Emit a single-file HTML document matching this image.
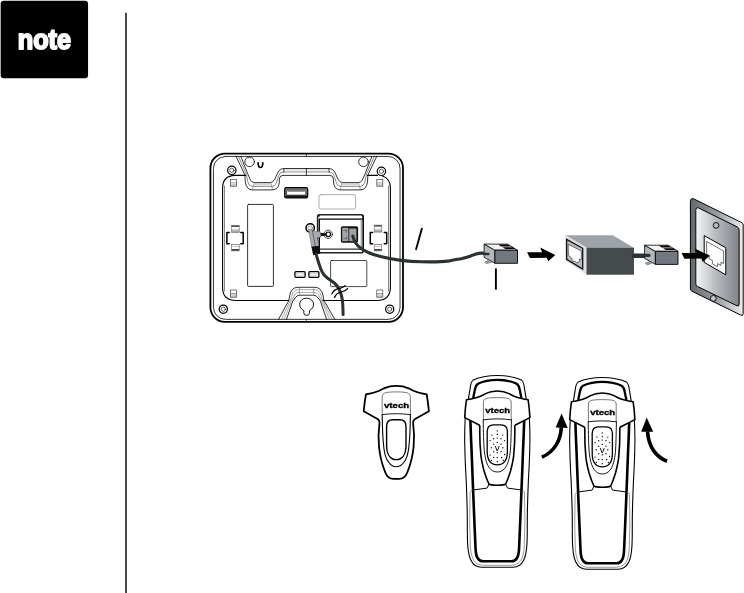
<!DOCTYPE html>
<html lang="en">
<head>
<meta charset="utf-8">
<title>note</title>
<style>
html,body{margin:0;padding:0;background:#fff;}
body{width:744px;height:593px;overflow:hidden;position:relative;font-family:"Liberation Sans",sans-serif;}
svg{position:absolute;left:0;top:0;display:block;will-change:transform;}
text{font-family:"Liberation Sans",sans-serif;font-weight:bold;}
.k{stroke:#000;stroke-linecap:round;stroke-linejoin:round;}
.g{stroke:#555;stroke-linecap:round;stroke-linejoin:round;}
.l{stroke:#999;stroke-linecap:round;stroke-linejoin:round;}
</style>
</head>
<body>
<svg width="744" height="593" viewBox="0 0 744 593" fill="none">
<defs>
<linearGradient id="tab" x1="0" y1="0" x2="0" y2="1"><stop offset="0" stop-color="#fff"/><stop offset="0.42" stop-color="#fff"/><stop offset="0.5" stop-color="#888"/><stop offset="0.58" stop-color="#d8d8d8"/><stop offset="1" stop-color="#c4c4c4"/></linearGradient>
<linearGradient id="plate" x1="0" y1="0" x2="1" y2="0"><stop offset="0" stop-color="#f6f6f7"/><stop offset="0.45" stop-color="#b9bcc0"/><stop offset="1" stop-color="#80848a"/></linearGradient>
<linearGradient id="plateo" x1="0" y1="0" x2="1" y2="0"><stop offset="0" stop-color="#63686d"/><stop offset="0.5" stop-color="#9a9ea3"/><stop offset="1" stop-color="#ededee"/></linearGradient>
<linearGradient id="tabT" x1="0" y1="0" x2="0" y2="1"><stop offset="0" stop-color="#444"/><stop offset="0.18" stop-color="#555"/><stop offset="0.24" stop-color="#fff"/><stop offset="0.5" stop-color="#f4f4f4"/><stop offset="0.7" stop-color="#bbb"/><stop offset="1" stop-color="#999"/></linearGradient>
<linearGradient id="tabB" x1="0" y1="0" x2="0" y2="1"><stop offset="0" stop-color="#999"/><stop offset="0.1" stop-color="#fff"/><stop offset="0.3" stop-color="#fff"/><stop offset="0.36" stop-color="#999"/><stop offset="0.44" stop-color="#fff"/><stop offset="0.72" stop-color="#fff"/><stop offset="0.78" stop-color="#444"/><stop offset="1" stop-color="#555"/></linearGradient>
</defs>
<rect x="0.65" y="0.65" width="87.4" height="77.6" rx="3.2" ry="3.2" fill="#000"/>
<text x="17.7" y="49" font-size="27" fill="#fff" stroke="#fff" stroke-width="1.9" stroke-linejoin="round" textLength="53.4" lengthAdjust="spacingAndGlyphs">note</text>
<line x1="126" y1="12.8" x2="126" y2="593" stroke="#48484a" stroke-width="2"/>
<g id="base">
<!-- outer shell -->
<rect x="210.4" y="153.6" width="192.6" height="168.2" rx="14.5" ry="14.5" class="k" stroke-width="1.8" fill="#fff"/>
<rect x="213.45" y="156.45" width="186.6" height="162.9" rx="12" ry="12" class="k" stroke-width="0.8"/>
<line x1="306.4" y1="154" x2="306.4" y2="156.2" class="k" stroke-width="0.7"/>
<line x1="306.3" y1="319.5" x2="306.3" y2="322" class="k" stroke-width="0.7"/>
<!-- inner recessed panel -->
<path class="k" stroke-width="1.1" d="M245.6,175.4 H235 Q222.6,175.8 222.6,188 V288.5 Q223.2,300.5 236,300.5 H288.6"/>
<path class="g" stroke-width="0.7" d="M224.5,186 V291"/>
<path class="k" stroke-width="1.1" d="M367.4,175.4 H377.5 M382.4,176 Q390.2,178.5 390.4,188 V288 Q389.8,300.5 377,300.5 H322.8"/>
<path class="g" stroke-width="0.7" d="M388.5,186 V291"/>
<!-- top cradle notch -->
<g>
<path class="k" stroke-width="0.8" d="M236,156.2 L244.9,175 L245.3,181.8 Q246.4,189.9 252.4,189.9 H272 Q277.6,189.9 279,184.3 L279.6,178 Q280,175.4 283,175.4 H306.4"/>
<path class="k" stroke-width="0.8" d="M240.9,156.4 L247.7,173.8 L250.5,180.2 Q251.8,182.6 254.6,182.6 H270.3 Q273,182.4 274.7,179.4 L278,172.2 Q279.8,168.5 283.6,168.5 H306.4"/>
<path class="k" stroke-width="0.45" d="M238.5,156.4 L246.4,174.4 L247.6,181 Q248.8,186.4 253.4,186.4 H271.2 Q275.2,186.4 276.6,182.2 L278.6,176 Q279.6,172 283.3,172 H306.4"/>
<rect x="254.8" y="183" width="15.6" height="2.3" fill="#d0d0d0"/>
<rect x="284" y="169" width="22.4" height="1.8" fill="#e4e4e4"/>
<path class="g" stroke-width="0.5" d="M254.4,182.8 L252.4,189.6 M270.8,182.8 L272.6,189.6"/>
<path class="k" stroke-width="0.7" d="M283.8,168.6 V172"/>
</g>
<g transform="translate(612.8,0) scale(-1,1)">
<path class="k" stroke-width="0.8" d="M236,156.2 L244.9,175 L245.3,181.8 Q246.4,189.9 252.4,189.9 H272 Q277.6,189.9 279,184.3 L279.6,178 Q280,175.4 283,175.4 H306.4"/>
<path class="k" stroke-width="0.8" d="M240.9,156.4 L247.7,173.8 L250.5,180.2 Q251.8,182.6 254.6,182.6 H270.3 Q273,182.4 274.7,179.4 L278,172.2 Q279.8,168.5 283.6,168.5 H306.4"/>
<path class="k" stroke-width="0.45" d="M238.5,156.4 L246.4,174.4 L247.6,181 Q248.8,186.4 253.4,186.4 H271.2 Q275.2,186.4 276.6,182.2 L278.6,176 Q279.6,172 283.3,172 H306.4"/>
<rect x="254.8" y="183" width="15.6" height="2.3" fill="#d0d0d0"/>
<rect x="284" y="169" width="22.4" height="1.8" fill="#e4e4e4"/>
<path class="g" stroke-width="0.5" d="M254.4,182.8 L252.4,189.6 M270.8,182.8 L272.6,189.6"/>
<path class="k" stroke-width="0.7" d="M283.8,168.6 V172"/>
</g>
<line x1="306.4" y1="168.5" x2="306.4" y2="175.4" class="k" stroke-width="0.7"/>
<!-- top holes -->
<circle cx="249.6" cy="161.8" r="4.8" class="k" stroke-width="0.8" fill="#fff"/>
<circle cx="363.5" cy="161.8" r="4.8" class="k" stroke-width="0.8" fill="#fff"/>
<path class="k" stroke-width="1.7" d="M258.1,162.9 Q258.2,167.5 260.4,167.5 Q262.7,167.5 262.8,162.9"/>
<!-- screws -->
<g class="k" fill="#fff">
<circle cx="231.8" cy="170.3" r="4.2" stroke-width="1.2"/><circle cx="231.8" cy="170.3" r="2.1" stroke-width="0.6"/>
<circle cx="381.4" cy="171.3" r="4.2" stroke-width="1.2"/><circle cx="381.4" cy="171.3" r="2.1" stroke-width="0.6"/>
<circle cx="223.3" cy="309.2" r="4.1" stroke-width="1.25"/><circle cx="223.3" cy="309.2" r="2.1" stroke-width="0.6"/>
<circle cx="389.7" cy="309.2" r="4.1" stroke-width="1.25"/><circle cx="389.7" cy="309.2" r="2.1" stroke-width="0.6"/>
</g>
<!-- small corner tabs -->
<g stroke="#444" stroke-width="0.7" fill="url(#tab)">
<rect x="230.6" y="179.4" width="6" height="6.8"/>
<rect x="376.8" y="179.4" width="6" height="6.8"/>
<rect x="230.6" y="290" width="6" height="7.2"/>
<rect x="376.8" y="290" width="6" height="7.2"/>
</g>
<!-- side clips -->
<g stroke="#666" stroke-width="0.6">
<rect x="231.6" y="225.3" width="7.6" height="7" fill="url(#tabT)"/>
<rect x="231.6" y="244.3" width="7.6" height="6.6" fill="url(#tabB)"/>
<rect x="374.2" y="225.1" width="7.6" height="7" fill="url(#tabT)"/>
<rect x="374.2" y="244.3" width="7.6" height="6.6" fill="url(#tabB)"/>
</g>
<path class="k" stroke-width="1.5" stroke-linecap="butt" d="M229.2,232.5 H226.9 V243.7 H229.2 M240.8,232.5 H243.2 V243.7 H240.8"/>
<path class="k" stroke-width="1.5" stroke-linecap="butt" d="M372.6,232.5 H370.3 V243.7 H372.6 M384.2,232.5 H386.7 V243.7 H384.2"/>
<!-- tall rectangle -->
<rect x="247.6" y="204.4" width="25.8" height="82" rx="1" class="k" stroke-width="0.8"/>
<!-- slot -->
<rect x="284.7" y="187.6" width="23" height="10.3" rx="1.6" fill="#777" stroke="#000" stroke-width="1.2"/>
<rect x="285.4" y="195.6" width="21.6" height="2" fill="#111"/>
<rect x="286.6" y="190.3" width="19.2" height="4.8" rx="0.8" fill="#fff" stroke="#222" stroke-width="0.7"/>
<line x1="287.6" y1="191.5" x2="304.8" y2="191.5" stroke="#555" stroke-width="0.6"/>
<!-- label rects -->
<rect x="319" y="194.6" width="36.6" height="14.4" rx="1.8" class="l" stroke-width="0.8"/>
<rect x="330.6" y="260.5" width="36.2" height="26.1" rx="0.8" class="k" stroke-width="0.7"/>
<!-- small rects -->
<rect x="294.9" y="271.7" width="10.2" height="5.6" rx="1" class="k" stroke-width="1.3" fill="#fff"/>
<rect x="296.7" y="273.3" width="6.6" height="2.4" fill="#fff" stroke="#999" stroke-width="0.35"/>
<rect x="308.9" y="271.7" width="10" height="5.6" rx="1" class="k" stroke-width="1.3" fill="#fff"/>
<rect x="310.7" y="273.3" width="6.4" height="2.4" fill="#fff" stroke="#999" stroke-width="0.35"/>
<!-- bottom notch -->
<path class="k" stroke-width="0.8" d="M278.5,319.4 L288.8,300.6 L289.6,296 Q291,287.3 298,287.3 H314.6 Q321.8,287.3 323.2,296 L323.8,300.4 L334.9,319.4"/>
<path class="g" stroke-width="0.5" d="M281.4,319.4 L290.3,300.6 L291.6,296.6 Q293,289.6 298.4,289.6 H314.4 Q320,289.6 321.4,296.8 L322.5,300.4 L332.2,319.4"/>
<path class="g" stroke-width="0.5" d="M284,319.4 L291.6,300.6 L293.4,297.4 Q295,292.4 298.8,292.4 H314.2 Q318.2,292.4 319.8,297.4 L321.4,300.4 L329.6,319.4"/>
<path class="k" stroke-width="0.8" d="M286.5,319.4 L292.8,301 L295,298 Q297,295.2 299.4,295.2 H313.6 Q316.2,295.2 318.2,298 L320.4,301 L326.6,319.4"/>
<path class="g" stroke-width="0.5" d="M299.4,287.4 V295.2 M313.8,287.4 V295.2"/>
<!-- keyhole -->
<path class="k" stroke-width="0.9" fill="#fff" d="M303.6,310.6 C297.2,307 298.8,298.2 306.6,298.2 C314.4,298.2 316,307 309.6,310.6 L309.4,313.2 Q309.2,315.4 306.6,315.4 Q304,315.4 303.8,313.2 Z"/>
<!-- jack panel -->
<rect x="317.6" y="214.8" width="45.6" height="38" rx="1.8" fill="#fff" stroke="#222" stroke-width="1.5"/>
<path class="k" stroke-width="1.3" d="M319.3,252 V219.2 H362.4"/>
<path class="k" stroke-width="1.1" d="M363.2,217 V251"/>
<line x1="319" y1="249.2" x2="363" y2="249.2" stroke="#333" stroke-width="1.2"/>
<line x1="361.4" y1="219.8" x2="361.4" y2="248.6" stroke="#a8a8a8" stroke-width="1.6"/>
<circle cx="319" cy="215.8" r="0.9" fill="#000"/><circle cx="362.6" cy="215.8" r="0.9" fill="#000"/>
<!-- phone jack -->
<rect x="340.9" y="226.2" width="17.2" height="16.6" rx="1.8" fill="#111"/>
<rect x="342.2" y="227.8" width="6.2" height="13.4" fill="#a3a7ab"/>
<path d="M343.4,230.2 H346.4 V232.6 M343.4,238.8 H346.4 V236.4" stroke="#333" stroke-width="0.6" fill="none"/>
<rect x="349.2" y="228.6" width="7.2" height="12.6" rx="0.5" fill="#9da1a6"/>
<!-- power jack -->
<circle cx="328.2" cy="234.3" r="4.2" class="k" stroke-width="0.7" fill="#fff"/>
<circle cx="328.2" cy="234.3" r="2.3" class="k" stroke-width="1.1" fill="#fff"/>
</g>
<g id="cords">
<!-- power plug -->
<circle cx="310.2" cy="228" r="4.2" class="k" stroke-width="1.5" fill="#fff"/>
<circle cx="310.2" cy="228" r="2.2" class="g" stroke-width="0.6" fill="#fff"/>
<path d="M320,232.8 L326.6,233.6 L326.6,235.4 L320.6,236.2 Z" fill="#111"/>
<path d="M308.6,230 L311.4,229 L314.1,231.6 L320.2,231.6 L321,237 L317.4,237.5 L318.8,246.4 L311.8,247.4 Z" fill="#a8acb2" stroke="#555" stroke-width="0.5"/>
<path d="M312.2,230 L315.6,246.8" stroke="#444" stroke-width="0.7" fill="none"/>
<path d="M311.4,246.8 L319.4,245.8 L320.4,253.6 L313.2,255.2 Z" fill="#0a0a0a"/>
<path d="M316.2,254.3 C317,257.5 317.8,260 318.7,263 C319.8,266.5 321,269.8 322.3,272.3 C323.6,274.8 325.2,276.4 327.3,278 C329.6,279.8 332.2,281.2 334.5,283 C336.6,284.8 338.2,287.4 339.5,290.2 C341,293.4 341.9,296.6 342.4,300.3 C342.9,304.6 343,309 343.1,314.6" fill="none" stroke="#2b3232" stroke-width="3" stroke-linecap="round"/>
<path d="M331.9,293.8 Q334,289.5 338.5,288.6 Q343,287.8 345.2,285.6" class="k" stroke-width="1.3"/>
<path d="M334.5,297.4 Q336.6,293 341,292.2 Q345.2,291.4 347.6,288.6" class="k" stroke-width="1.3"/>
<!-- phone cord -->
<path d="M352.8,236 C354,241 356.5,245 360.5,248.1 C366,252.5 372,254.5 380.6,256.6 C388,258.5 394,259.6 400.8,260.4 C408,261.2 414,261.6 421,261.7 C431,262 441,261.9 449.2,260.9 C455,259.9 458,259.4 462,258.6 C466,257.7 468,257 470,256.3 C472.5,255.4 474,254.6 476,254 C478.5,253.3 480,253.1 481.5,253.1 C484,253.1 486,253.5 488,254" fill="none" stroke="#2b3232" stroke-width="3.1" stroke-linecap="round"/>
<!-- callout lines -->
<line x1="421.9" y1="228.6" x2="416.1" y2="249.2" stroke="#000" stroke-width="1.9" stroke-linecap="round"/>
<line x1="495.9" y1="268.4" x2="495.9" y2="289.6" stroke="#000" stroke-width="1.9"/>
<!-- plug 1 -->
<g id="plug1">
<path d="M484.1,262 L487.9,260.1 L492.1,262.5 L486.5,264.3 Z" fill="#93989d"/>
<path d="M484.1,244.1 L494.9,250.2 L494.9,263.2 L484.1,257.3 Z" fill="#b4b8be" stroke="#000" stroke-width="0.8" stroke-linejoin="round"/>
<path d="M484.1,244.1 L507.6,244.1 L517.5,250.2 L494.9,250.2 Z" fill="#f2f2f2" stroke="#000" stroke-width="0.8" stroke-linejoin="round"/>
<path d="M498.2,244.4 L508,244.4 L510.6,246.4 L501.2,246.4 Z M502.6,247.2 L512.6,247.2 L515.4,249 L505.4,249 Z" fill="#000"/>
<rect x="494.9" y="250.2" width="22.6" height="13.1" fill="#717880" stroke="#000" stroke-width="0.9" stroke-linejoin="round"/>
<path d="M485.4,254 H488.4" stroke="#2b3232" stroke-width="2.5" stroke-linecap="round"/>
</g>
<!-- arrow 1 -->
<path d="M527.1,252.3 L542.1,252.3 L540.2,247.6 L555.3,254.9 L548.2,261.2 L546.8,257.7 L529.9,257.9 Z" fill="#000"/>
<!-- adapter -->
<g id="adapter">
<path d="M565.4,235.2 L612.7,235.2 L633.9,247.8 L586.5,247.8 Z" fill="#9ea3a8"/>
<path d="M565.3,235 L586.6,247.7 L586.6,274.7 L565.3,260.8 Z" fill="#dddfe2"/>
<rect x="586.5" y="247.7" width="47.5" height="27" fill="#454b4d"/>
<path d="M566.6,239.4 L582.7,248.3 L582.7,269 L566.6,259.4 Z" fill="#b8bbbf" stroke="#111" stroke-width="1.3" stroke-linejoin="miter"/>
<path d="M568.2,244.3 L581.3,250.9 L581.3,259.5 L579.6,259 L579.2,261.8 L576.6,262.8 L575.2,261.3 L572.4,261.2 L571.5,257.9 L568.4,255.1 Z" fill="#fff" stroke="#222" stroke-width="0.6" stroke-linejoin="miter"/>
</g>
<!-- cable adapter to plug 2 -->
<path d="M634,255.8 H650.4" stroke="#2b3232" stroke-width="4.4" stroke-linecap="round"/>
<!-- plug 2 -->
<g transform="translate(160.5,1.1)">
<path d="M484.1,262 L487.9,260.1 L492.1,262.5 L486.5,264.3 Z" fill="#93989d"/>
<path d="M484.1,244.1 L494.9,250.2 L494.9,263.2 L484.1,257.3 Z" fill="#b4b8be" stroke="#000" stroke-width="0.8" stroke-linejoin="round"/>
<path d="M484.1,244.1 L507.6,244.1 L517.5,250.2 L494.9,250.2 Z" fill="#f2f2f2" stroke="#000" stroke-width="0.8" stroke-linejoin="round"/>
<path d="M498.2,244.4 L508,244.4 L510.6,246.4 L501.2,246.4 Z M502.6,247.2 L512.6,247.2 L515.4,249 L505.4,249 Z" fill="#000"/>
<rect x="494.9" y="250.2" width="22.6" height="13.1" fill="#717880" stroke="#000" stroke-width="0.9" stroke-linejoin="round"/>
<path d="M485.4,254.3 H488.4" stroke="#2b3232" stroke-width="3.4" stroke-linecap="round"/>
</g>
<!-- wall plate -->
<g id="wall">
<path d="M690.4,201.4 Q690.4,198.2 693.2,198.6 L742,222.8 Q743.2,223.4 743.2,225 L743.2,313.4 Q743.2,316.2 741,315.2 L691.8,291.2 Q690.4,290.4 690.4,288.8 Z" fill="url(#plateo)" stroke="#000" stroke-width="1" stroke-linejoin="round"/>
<path d="M695.8,210.6 Q695.8,207 698.6,208 L737.4,227 Q739.1,227.9 739.1,230 L739.1,304 Q739.1,306.8 737,305.8 L697.4,286.4 Q695.8,285.6 695.8,283.6 Z" fill="url(#plate)" stroke="#000" stroke-width="1" stroke-linejoin="round"/>
<circle cx="716.1" cy="225.4" r="2.9" fill="none" stroke="#000" stroke-width="0.9"/>
<circle cx="713.3" cy="298.4" r="2.9" fill="#c4c6c9" stroke="#000" stroke-width="0.9"/>
<path d="M704.2,235.6 L725.8,247.8 L725.8,274.8 L704.2,262.4 Z" fill="#fff" stroke="#000" stroke-width="1" stroke-linejoin="miter"/>
<path d="M706.6,241.4 L723.6,251 L723.6,263.6 L721,262.2 L721,265.4 L717.6,263.6 L717.6,266.8 L712.4,263.8 L712.4,260.6 L709.2,258.8 L709.2,255.6 L706.6,254.2 Z" fill="#fff" stroke="#333" stroke-width="0.7" stroke-linejoin="miter"/>
</g>
<!-- arrow 2 -->
<path transform="translate(154.5,0.8)" d="M527.1,252.3 L542.1,252.3 L540.2,247.6 L555.3,254.9 L548.2,261.2 L546.8,257.7 L529.9,257.9 Z" fill="#000"/>
</g>
<g fill="none">
<path class="k" stroke-width="1.8" d="M396.3,385.9 C391,385.9 388,386.6 384,388.3 L379.2,390.7 C375,392.6 370.5,393.6 365.9,394.4 Q364.4,403 363.7,411.3 L378,419.2 Q379.6,420.4 379.5,423 C378.4,431 378.2,439 379,447 C380,456 382.2,465 385.2,472.2 C386.8,476.4 389.4,478.9 393.4,478.9 L396.3,478.9 L399.2,478.9 C403.2,478.9 405.8,476.4 407.4,472.2 C410.4,465 412.6,456 413.6,447 C414.4,439 414.2,431 413.1,423 Q413,420.4 414.6,419.2 L428.9,411.3 Q428.2,403 426.7,394.4 C422.1,393.6 417.6,392.6 413.4,390.7 L408.6,388.3 C404.6,386.6 401.6,385.9 396.3,385.9 Z"/>
<path class="g" stroke-width="0.8" d="M410.4,414.4 L410.4,396.6 Q410.4,394.4 408.2,393.2 Q405.6,391.9 396.3,391.9 Q387,391.9 384.4,393.2 Q382.2,394.4 382.2,396.6 L382.2,414.4"/>
<path class="k" stroke-width="0.9" d="M382.2,414.6 Q389,413.7 396.3,413.7 Q403.6,413.7 410.4,414.6"/>
<path class="k" stroke-width="1.1" d="M382.2,414.6 C382.3,427 382.8,440 384,449.2 C385,456 386.6,460 388.9,462.5 C391,465.4 393.5,466.8 396.3,466.8 C399.1,466.8 401.6,465.4 403.7,462.5 C406,460 407.6,456 408.6,449.2 C409.8,440 410.3,427 410.4,414.6"/>
<path class="k" stroke-width="1.4" d="M396.3,419.8 L392.8,419.8 Q386.6,419.8 386.6,426.4 L386.6,446 C386.8,454.5 390.5,459.6 396.3,459.6 C402.1,459.6 405.8,454.5 406,446 L406,426.4 Q406,419.8 399.8,419.8 L396.3,419.8 Z"/>
<text x="384" y="407.7" font-size="8" fill="#000" stroke="#000" stroke-width="0.35" textLength="25.2" lengthAdjust="spacingAndGlyphs">vtech</text>
</g>
<g>
<g fill="none">
<path class="k" stroke-width="1.1" d="M526.2,398.8 L524.5,388.6 C524.1,385 523.8,381.6 521.5,380.1 C515.6,377.3 506.6,375.5 497.3,375.5 C488,375.5 479,377.3 473.1,380.1 C470.8,381.6 470.5,385 470.1,388.6 L468.4,398.8"/>
<path class="k" stroke-width="2.3" d="M521.3,397.6 L519.6,389.2 C519.2,387 518.8,385 516.6,383.7 C511.6,381.4 504.6,379.9 497.3,379.9 C490,379.9 483,381.4 478,383.7 C475.8,385 475.4,387 475,389.2 L473.3,397.6"/>
<path class="k" stroke-width="1.1" d="M465.2,418.5 C464.6,430 464.6,440 464.8,446 C465,458 465.6,470 466.2,480 C466.8,495 467.4,510 467.3,522 C467.3,535 467.4,542 467.8,546 C468.4,553 469.5,557.5 470.8,560 C473,564.5 476.5,567.2 481.6,567.2 L497.3,567.2 L513,567.2 C518.1,567.2 521.6,564.5 523.8,560 C525.1,557.5 526.2,553 526.8,546 C527.2,542 527.3,535 527.3,522 C527.2,510 527.8,495 528.4,480 C529,470 529.6,458 529.8,446 C530,440 530,430 529.4,418.5"/>
<path class="k" stroke-width="2.6" d="M470.4,421 C470.8,430 471,440 471.4,446 L472.5,475 L473.1,490 L474.4,522 L475.6,550 Q476.2,556 477.6,558 Q479.5,561.2 483,561.3 L497.3,561.3 L511.6,561.3 Q515.1,561.2 517,558 Q518.4,556 519,550 L520.2,522 L521.5,490 L522.1,475 L523.2,446 C523.6,440 523.8,430 524.2,421"/>
<path class="g" stroke-width="0.6" d="M473.1,490.2 Q470.3,490.4 470.1,492.5 L469.7,522 L470.4,548 Q471.5,559 475.6,562.6 Q478.5,565.2 483,565.3 L497.3,565.3 L511.6,565.3 Q516.1,565.2 519,562.6 Q523.1,559 524.2,548 L524.9,522 L524.5,492.5 Q524.3,490.4 521.5,490.2"/>
<path class="k" stroke-width="1.0" d="M473.1,490 L487.1,488.1 L488.9,484.3"/>
<g transform="translate(994.6,0) scale(-1,1)"><path class="k" stroke-width="1.0" d="M473.1,490 L487.1,488.1 L488.9,484.3"/></g>
<path class="k" stroke-width="1.6" d="M497.3,391 C492,391 489,391.8 485.6,393.6 L481.6,395.8 C477,398 472,399 466.5,399.7 Q465.2,408 464.7,417.6 L479.2,425 Q480,426 479.8,427.3 C479.6,437 480,447 481,456.3 C481.8,462 482.8,466 484,470.8 C485.4,475.5 487,480 488.9,484 L490.1,484.6 Q493.5,485.2 497.3,485.2 Q501.1,485.2 504.5,484.6 L505.7,484 C507.6,480 509.2,475.5 510.6,470.8 C511.8,466 512.8,462 513.6,456.3 C514.6,447 515,437 514.8,427.3 Q514.6,426 515.4,425 L529.9,417.6 Q529.4,408 528.1,399.7 C522.6,399 517.6,398 513,395.8 L509,393.6 C505.6,391.8 502.6,391 497.3,391 Z" fill="#fff"/>
<path class="g" stroke-width="0.8" d="M511.2,419.6 L511.2,402 Q511.2,399.8 509.2,398.8 Q506.6,397.6 497.3,397.6 Q488,397.6 485.4,398.8 Q483.4,399.8 483.4,402 L483.4,419.6"/>
<path class="k" stroke-width="0.9" d="M483.4,419.8 Q490,418.9 497.3,418.9 Q504.6,418.9 511.2,419.8"/>
<path class="k" stroke-width="0.9" d="M483.2,419.8 C483.4,432 483.6,442 484.2,450.2 C485,458 486.5,463.5 488.9,467.2 C491,470.5 494,472 497.3,472 C500.6,472 503.6,470.5 505.7,467.2 C508.1,463.5 509.6,458 510.4,450.2 C511,442 511.2,432 511.4,419.8"/>
<path class="k" stroke-width="1.3" d="M497.3,424.8 L493.6,424.8 Q487.2,424.8 487.2,431.5 L487.2,452 C487.4,460 491,464.8 497.3,464.8 C503.6,464.8 507.2,460 507.4,452 L507.4,431.5 Q507.4,424.8 501,424.8 L497.3,424.8 Z"/>
<g fill="#111"><circle cx="497.3" cy="430.9" r="0.7"/><circle cx="497.3" cy="434.5" r="0.7"/><circle cx="497.3" cy="438.1" r="0.7"/><circle cx="497.3" cy="442.4" r="0.7"/><circle cx="497.3" cy="452.7" r="0.7"/><circle cx="497.3" cy="457.5" r="0.7"/><circle cx="497.3" cy="461.7" r="0.7"/><circle cx="491.9" cy="435.1" r="0.7"/><circle cx="502.8" cy="435.1" r="0.7"/><circle cx="493.7" cy="438.7" r="0.7"/><circle cx="501.0" cy="438.7" r="0.7"/><circle cx="490.1" cy="440.6" r="0.7"/><circle cx="504.6" cy="440.6" r="0.7"/><circle cx="493.7" cy="444.2" r="0.7"/><circle cx="501.0" cy="444.2" r="0.7"/><circle cx="491.3" cy="447.8" r="0.7"/><circle cx="502.8" cy="447.8" r="0.7"/><circle cx="493.7" cy="451.7" r="0.7"/><circle cx="501.0" cy="451.7" r="0.7"/><circle cx="490.1" cy="455.1" r="0.7"/><circle cx="504.6" cy="454.5" r="0.7"/><circle cx="493.7" cy="457.5" r="0.7"/><circle cx="501.6" cy="457.5" r="0.7"/><circle cx="491.3" cy="460.5" r="0.7"/><circle cx="503.4" cy="460.5" r="0.7"/></g>
<text x="494.8" y="450.5" font-size="9" fill="#000" style="font-weight:normal" textLength="5" lengthAdjust="spacingAndGlyphs">v</text>
<text x="485.2" y="413.4" font-size="8" fill="#000" stroke="#000" stroke-width="0.35" textLength="25" lengthAdjust="spacingAndGlyphs">vtech</text>
</g>
</g>
<g transform="translate(105,2)">
<g fill="none">
<path class="k" stroke-width="1.1" d="M526.2,398.8 L524.5,388.6 C524.1,385 523.8,381.6 521.5,380.1 C515.6,377.3 506.6,375.5 497.3,375.5 C488,375.5 479,377.3 473.1,380.1 C470.8,381.6 470.5,385 470.1,388.6 L468.4,398.8"/>
<path class="k" stroke-width="2.3" d="M521.3,397.6 L519.6,389.2 C519.2,387 518.8,385 516.6,383.7 C511.6,381.4 504.6,379.9 497.3,379.9 C490,379.9 483,381.4 478,383.7 C475.8,385 475.4,387 475,389.2 L473.3,397.6"/>
<path class="k" stroke-width="1.1" d="M465.2,418.5 C464.6,430 464.6,440 464.8,446 C465,458 465.6,470 466.2,480 C466.8,495 467.4,510 467.3,522 C467.3,535 467.4,542 467.8,546 C468.4,553 469.5,557.5 470.8,560 C473,564.5 476.5,567.2 481.6,567.2 L497.3,567.2 L513,567.2 C518.1,567.2 521.6,564.5 523.8,560 C525.1,557.5 526.2,553 526.8,546 C527.2,542 527.3,535 527.3,522 C527.2,510 527.8,495 528.4,480 C529,470 529.6,458 529.8,446 C530,440 530,430 529.4,418.5"/>
<path class="k" stroke-width="2.6" d="M470.4,421 C470.8,430 471,440 471.4,446 L472.5,475 L473.1,490 L474.4,522 L475.6,550 Q476.2,556 477.6,558 Q479.5,561.2 483,561.3 L497.3,561.3 L511.6,561.3 Q515.1,561.2 517,558 Q518.4,556 519,550 L520.2,522 L521.5,490 L522.1,475 L523.2,446 C523.6,440 523.8,430 524.2,421"/>
<path class="g" stroke-width="0.6" d="M473.1,490.2 Q470.3,490.4 470.1,492.5 L469.7,522 L470.4,548 Q471.5,559 475.6,562.6 Q478.5,565.2 483,565.3 L497.3,565.3 L511.6,565.3 Q516.1,565.2 519,562.6 Q523.1,559 524.2,548 L524.9,522 L524.5,492.5 Q524.3,490.4 521.5,490.2"/>
<path class="k" stroke-width="1.0" d="M473.1,490 L487.1,488.1 L488.9,484.3"/>
<g transform="translate(994.6,0) scale(-1,1)"><path class="k" stroke-width="1.0" d="M473.1,490 L487.1,488.1 L488.9,484.3"/></g>
<path class="k" stroke-width="1.6" d="M497.3,391 C492,391 489,391.8 485.6,393.6 L481.6,395.8 C477,398 472,399 466.5,399.7 Q465.2,408 464.7,417.6 L479.2,425 Q480,426 479.8,427.3 C479.6,437 480,447 481,456.3 C481.8,462 482.8,466 484,470.8 C485.4,475.5 487,480 488.9,484 L490.1,484.6 Q493.5,485.2 497.3,485.2 Q501.1,485.2 504.5,484.6 L505.7,484 C507.6,480 509.2,475.5 510.6,470.8 C511.8,466 512.8,462 513.6,456.3 C514.6,447 515,437 514.8,427.3 Q514.6,426 515.4,425 L529.9,417.6 Q529.4,408 528.1,399.7 C522.6,399 517.6,398 513,395.8 L509,393.6 C505.6,391.8 502.6,391 497.3,391 Z" fill="#fff"/>
<path class="g" stroke-width="0.8" d="M511.2,419.6 L511.2,402 Q511.2,399.8 509.2,398.8 Q506.6,397.6 497.3,397.6 Q488,397.6 485.4,398.8 Q483.4,399.8 483.4,402 L483.4,419.6"/>
<path class="k" stroke-width="0.9" d="M483.4,419.8 Q490,418.9 497.3,418.9 Q504.6,418.9 511.2,419.8"/>
<path class="k" stroke-width="0.9" d="M483.2,419.8 C483.4,432 483.6,442 484.2,450.2 C485,458 486.5,463.5 488.9,467.2 C491,470.5 494,472 497.3,472 C500.6,472 503.6,470.5 505.7,467.2 C508.1,463.5 509.6,458 510.4,450.2 C511,442 511.2,432 511.4,419.8"/>
<path class="k" stroke-width="1.3" d="M497.3,424.8 L493.6,424.8 Q487.2,424.8 487.2,431.5 L487.2,452 C487.4,460 491,464.8 497.3,464.8 C503.6,464.8 507.2,460 507.4,452 L507.4,431.5 Q507.4,424.8 501,424.8 L497.3,424.8 Z"/>
<g fill="#111"><circle cx="497.3" cy="430.9" r="0.7"/><circle cx="497.3" cy="434.5" r="0.7"/><circle cx="497.3" cy="438.1" r="0.7"/><circle cx="497.3" cy="442.4" r="0.7"/><circle cx="497.3" cy="452.7" r="0.7"/><circle cx="497.3" cy="457.5" r="0.7"/><circle cx="497.3" cy="461.7" r="0.7"/><circle cx="491.9" cy="435.1" r="0.7"/><circle cx="502.8" cy="435.1" r="0.7"/><circle cx="493.7" cy="438.7" r="0.7"/><circle cx="501.0" cy="438.7" r="0.7"/><circle cx="490.1" cy="440.6" r="0.7"/><circle cx="504.6" cy="440.6" r="0.7"/><circle cx="493.7" cy="444.2" r="0.7"/><circle cx="501.0" cy="444.2" r="0.7"/><circle cx="491.3" cy="447.8" r="0.7"/><circle cx="502.8" cy="447.8" r="0.7"/><circle cx="493.7" cy="451.7" r="0.7"/><circle cx="501.0" cy="451.7" r="0.7"/><circle cx="490.1" cy="455.1" r="0.7"/><circle cx="504.6" cy="454.5" r="0.7"/><circle cx="493.7" cy="457.5" r="0.7"/><circle cx="501.6" cy="457.5" r="0.7"/><circle cx="491.3" cy="460.5" r="0.7"/><circle cx="503.4" cy="460.5" r="0.7"/></g>
<text x="494.8" y="450.5" font-size="9" fill="#000" style="font-weight:normal" textLength="5" lengthAdjust="spacingAndGlyphs">v</text>
<text x="485.2" y="413.4" font-size="8" fill="#000" stroke="#000" stroke-width="0.35" textLength="25" lengthAdjust="spacingAndGlyphs">vtech</text>
</g>
</g>
<g id="arrows">
<path d="M541.8,457.2 C548,454.6 553,450 556.4,444.6 C559.4,439.6 561,433.6 561.3,427.4" fill="none" stroke="#000" stroke-width="3.6"/>
<path d="M561.6,413.4 L555.6,427.4 L567.7,428 Z" fill="#000"/>
<path d="M667.1,461.3 C661,459 656.6,455 653.4,450.4 C650,445.4 648,438.6 647.5,431.4" fill="none" stroke="#000" stroke-width="3.6"/>
<path d="M646.7,417.4 L641.2,431.8 L653.2,431.8 Z" fill="#000"/>
</g>
</svg>
</body>
</html>
